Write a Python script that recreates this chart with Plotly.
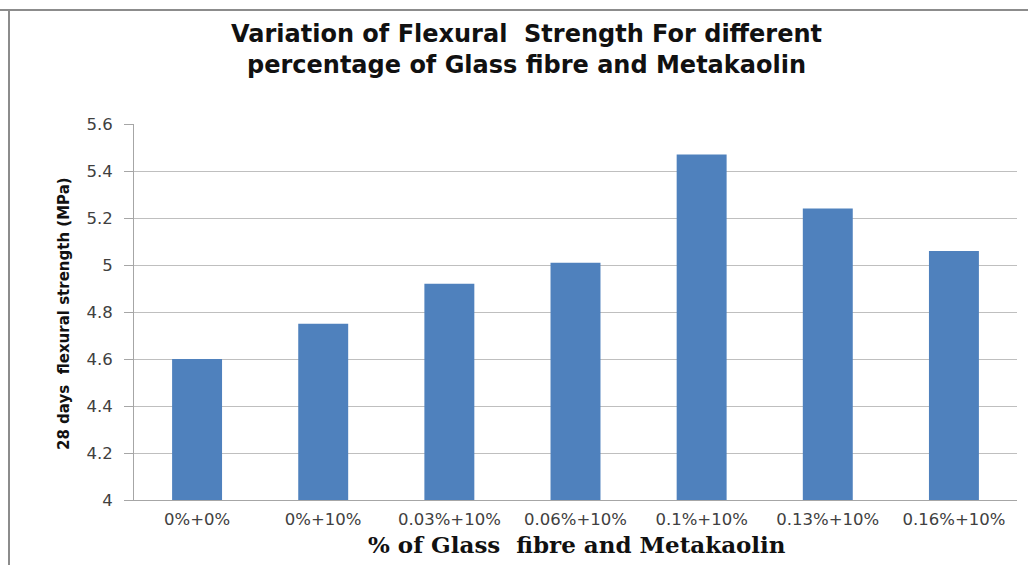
import plotly.graph_objects as go

categories = ["0%+0%", "0%+10%", "0.03%+10%", "0.06%+10%", "0.1%+10%", "0.13%+10%", "0.16%+10%"]
strength = [4.60, 4.75, 4.92, 5.01, 5.47, 5.24, 5.06]
y_ticks = [4, 4.2, 4.4, 4.6, 4.8, 5, 5.2, 5.4, 5.6]
y_tick_labels = ["4", "4.2", "4.4", "4.6", "4.8", "5", "5.2", "5.4", "5.6"]

fig = go.Figure()
fig.add_trace(go.Bar(
    x=categories, y=strength,
    marker=dict(color="#4F81BD", line=dict(width=0)),
))

W, H = 1028, 565
L, R, T, B = 134, 11, 124, 65
pw, ph = W - L - R, H - T - B

def px2x(px):
    return (px - L) / pw

def py2y(py):
    return (H - B - py) / ph

fig.update_layout(
    width=W, height=H,
    margin=dict(l=L, r=R, t=T, b=B, autoexpand=False),
    paper_bgcolor="white", plot_bgcolor="white",
    bargap=0.604,
    showlegend=False,
    font=dict(family="DejaVu Sans", size=15, color="#404040"),
    xaxis=dict(
        showline=True, linecolor="#A6A6A6", linewidth=1,
        ticks="", tickfont=dict(family="DejaVu Sans", size=16.5, color="#404040"),
        ticklabelstandoff=4,
    ),
    yaxis=dict(
        range=[4, 5.6], tickvals=y_ticks, ticktext=y_tick_labels,
        showgrid=True, gridcolor="#BFBFBF", gridwidth=1,
        showline=True, linecolor="#A6A6A6", linewidth=1,
        ticks="outside", ticklen=9, tickcolor="#A6A6A6",
        tickfont=dict(family="DejaVu Sans", size=16.5, color="#404040"),
        ticklabelstandoff=8,
        zeroline=False,
    ),
    annotations=[
        dict(text="<b>Variation of Flexural  Strength For different<br>percentage of Glass fibre and Metakaolin</b>",
             xref="paper", yref="paper", x=px2x(526), y=py2y(50), xanchor="center", yanchor="middle",
             showarrow=False, font=dict(family="DejaVu Sans", size=24, color="#111111")),
        dict(text="<b>% of Glass  fibre and Metakaolin</b>",
             xref="paper", yref="paper", x=px2x(577), y=py2y(544), xanchor="center", yanchor="middle",
             showarrow=False, font=dict(family="DejaVu Serif", size=23, color="#111111")),
        dict(text="<b>28 days  flexural strength (MPa)</b>",
             xref="paper", yref="paper", x=px2x(64), y=py2y(314), xanchor="center", yanchor="middle",
             textangle=-90, showarrow=False,
             font=dict(family="DejaVu Sans", size=15, color="#111111")),
    ],
    shapes=[
        dict(type="line", xref="paper", yref="paper", x0=px2x(0), x1=px2x(W), y0=py2y(10), y1=py2y(10),
             line=dict(color="#8C8C8C", width=2)),
        dict(type="line", xref="paper", yref="paper", x0=px2x(9), x1=px2x(9), y0=py2y(10), y1=py2y(H),
             line=dict(color="#8C8C8C", width=2)),
    ],
)

fig.write_html("out.html", config={"displayModeBar": False},
               post_script="document.body.style.margin='0px';document.body.style.overflow='hidden';")
